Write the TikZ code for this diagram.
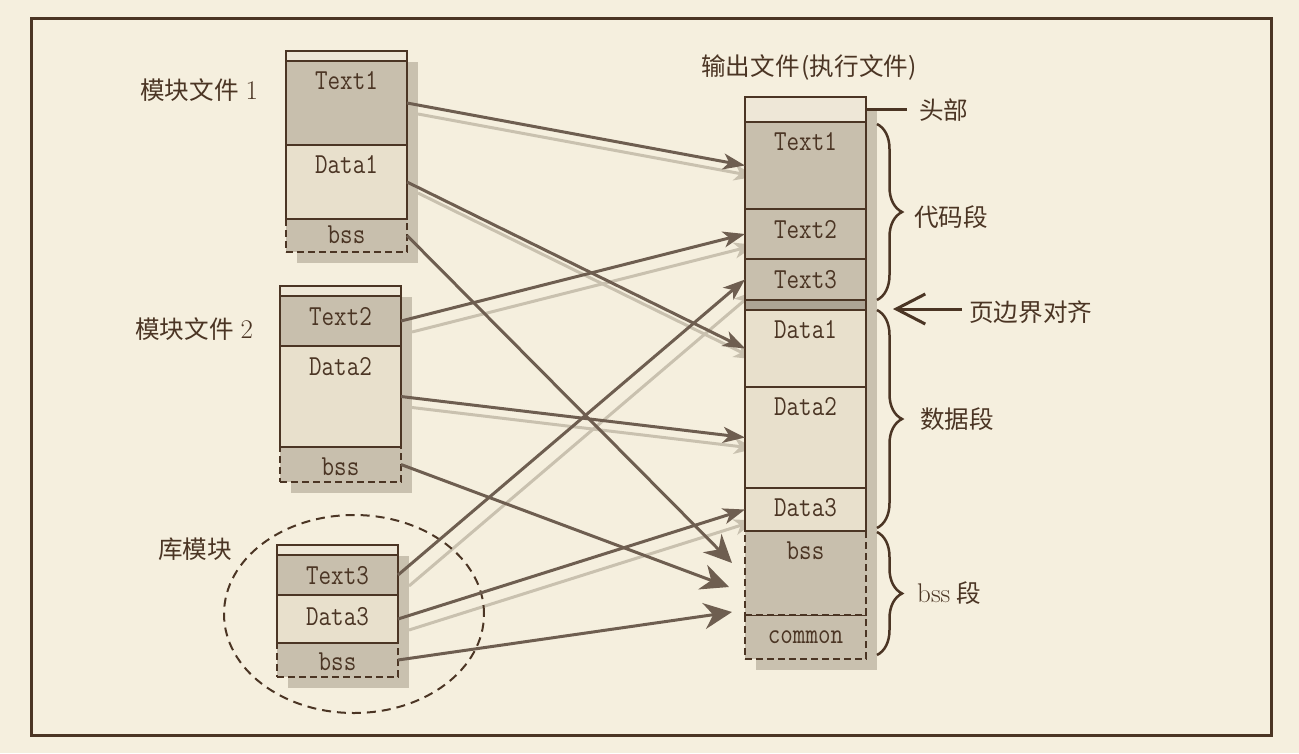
\documentclass[tikz,border=0pt]{standalone}
\usepackage{fontspec}
\newfontfamily\cjk{Noto Sans CJK SC}
\newfontfamily\mono[FakeStretch=0.84]{Latin Modern Mono}
\usetikzlibrary{arrows.meta,decorations.pathreplacing,shapes.geometric}
\definecolor{bgc}{HTML}{F5EFDE}
\definecolor{bord}{HTML}{4B3524}
\definecolor{arr}{HTML}{6E5E50}
\definecolor{shd}{HTML}{C9C1AF}
\definecolor{txtc}{HTML}{C8BFAD}
\definecolor{datc}{HTML}{E8E0CC}
\definecolor{hdrc}{HTML}{EEE7D7}
\definecolor{stripc}{HTML}{ADA494}
\definecolor{ink}{HTML}{4B3524}
\pgfdeclarelayer{back}\pgfdeclarelayer{shad}\pgfsetlayers{back,shad,main}
\newcommand{\rmpart}[1]{{\rmfamily\fontsize{27}{28}\selectfont #1}}
\begin{document}
\begin{tikzpicture}[x=1pt,y=-1pt,
 sec/.style={draw=bord, line width=2.5pt, minimum width=121pt, inner sep=0pt, outer sep=0pt, anchor=north west},
 hdr/.style={sec, fill=hdrc},
 txs/.style={sec, fill=txtc},
 das/.style={sec, fill=datc},
 bsss/.style={sec, fill=txtc, dash pattern=on 7pt off 4pt},
 seclab/.style={anchor=base, font=\mono\fontsize{29}{30}\selectfont, text=ink, inner sep=0pt},
 cn/.style={font=\cjk\fontsize{24.6}{28}\selectfont, text=ink, inner sep=0pt, anchor=west},
 conn/.style={draw=arr, line width=3pt, -{Stealth[length=22pt,width=16pt,inset=6pt]}},
 connbig/.style={draw=arr, line width=3pt, -{Stealth[length=28pt,width=26pt,inset=9pt]}},
 connshd/.style={draw=shd, line width=3pt, -{Stealth[length=22pt,width=16pt,inset=6pt]}},
 brc/.style={draw=bord, line width=2.5pt, decorate, decoration={brace, amplitude=25pt}},
]
\useasboundingbox (0,0) rectangle (1299,753);
\begin{pgfonlayer}{back}
\fill[bgc] (0,0) rectangle (1299,753);
\draw[bord, line width=3pt] (31,18) rectangle (1271,735);
\end{pgfonlayer}

% ---------- module 1 ----------
\node[bsss, minimum height=33pt] (m1b) at (286,219) {};
\node[hdr, minimum height=10pt] (m1h) at (286,51) {};
\node[txs, minimum height=84pt] (m1t) at (286,61) {};
\node[das, minimum height=74pt] (m1d) at (286,145) {};
\node[seclab] at ([yshift=-28pt]m1t.north) {Text1};
\node[seclab] at ([yshift=-28pt]m1d.north) {Data1};
\node[seclab] at ([yshift=-24pt]m1b.north) {bss};

% ---------- module 2 ----------
\node[bsss, minimum height=35pt] (m2b) at (280,447) {};
\node[hdr, minimum height=10pt] (m2h) at (280,286) {};
\node[txs, minimum height=50pt] (m2t) at (280,296) {};
\node[das, minimum height=101pt] (m2d) at (280,346) {};
\node[seclab] at ([yshift=-29pt]m2t.north) {Text2};
\node[seclab] at ([yshift=-29pt]m2d.north) {Data2};
\node[seclab] at ([yshift=-28pt]m2b.north) {bss};

% ---------- library module ----------
\node[bsss, minimum height=34pt] (lb) at (277,643) {};
\node[hdr, minimum height=10pt] (lh) at (277,545) {};
\node[txs, minimum height=40pt] (lt) at (277,555) {};
\node[das, minimum height=48pt] (ld) at (277,595) {};
\node[seclab] at ([yshift=-29pt]lt.north) {Text3};
\node[seclab] at ([yshift=-30pt]ld.north) {Data3};
\node[seclab] at ([yshift=-27pt]lb.north) {bss};
\node[draw=bord, line width=2pt, dash pattern=on 9pt off 6pt, ellipse, minimum width=260pt, minimum height=198pt] (lib) at (354,614) {};

% ---------- output file ----------
\node[bsss, minimum height=44pt] (oc) at (745,615) {};
\node[bsss, minimum height=84pt] (ob) at (745,531) {};
\node[hdr, minimum height=25pt] (oh) at (745,97) {};
\node[txs, minimum height=87pt] (ot1) at (745,122) {};
\node[txs, minimum height=50pt] (ot2) at (745,209) {};
\node[txs, minimum height=41pt] (ot3) at (745,259) {};
\node[sec, fill=stripc, minimum height=10pt] (ostrip) at (745,300) {};
\node[das, minimum height=77pt] (od1) at (745,310) {};
\node[das, minimum height=101pt] (od2) at (745,387) {};
\node[das, minimum height=43pt] (od3) at (745,488) {};
\node[seclab] at ([yshift=-28pt]ot1.north) {Text1};
\node[seclab] at ([yshift=-29pt]ot2.north) {Text2};
\node[seclab] at ([yshift=-29pt]ot3.north) {Text3};
\node[seclab] at ([yshift=-28pt]od1.north) {Data1};
\node[seclab] at ([yshift=-28pt]od2.north) {Data2};
\node[seclab] at ([yshift=-28pt]od3.north) {Data3};
\node[seclab] at ([yshift=-28pt]ob.north) {bss};
\node[seclab] at ([yshift=-28pt]oc.north) {common};

% ---------- box shadows ----------
\begin{pgfonlayer}{shad}
\fill[shd] ([shift={(11,11)}]m1h.north west) rectangle ([shift={(11,11)}]m1b.south east);
\fill[shd] ([shift={(11,11)}]m2h.north west) rectangle ([shift={(11,11)}]m2b.south east);
\fill[shd] ([shift={(11,11)}]lh.north west) rectangle ([shift={(11,11)}]lb.south east);
\fill[shd] ([shift={(11,11)}]oh.north west) rectangle ([shift={(11,11)}]oc.south east);
% connector shadows
\draw[connshd] ([shift={(11,11)}]m1t.east) -- ([shift={(11,11)}]ot1.west);
\draw[connshd] ([shift={(11,11)}]m1d.east) -- ([shift={(11,11)}]od1.west);
\draw[connshd] ([shift={(11,11)}]m2t.east) -- ([shift={(11,11)}]ot2.west);
\draw[connshd] ([shift={(11,11)}]m2d.east) -- ([shift={(11,11)}]od2.west);
\draw[connshd] ([shift={(11,11)}]lt.east) -- ([shift={(11,11)}]ot3.west);
\draw[connshd] ([shift={(11,11)}]ld.east) -- ([shift={(11,11)}]od3.west);
\end{pgfonlayer}

% ---------- labels ----------
\node[cn] (n1) at (140,90) {模块文件\hspace{7pt}\rmpart{1}};
\node[cn] (n2) at (135,329) {模块文件\hspace{7pt}\rmpart{2}};
\node[cn] (n3) at (158,549) {库模块};
\node[cn] (n4) at (701,67) {输出文件\hspace{2pt}(执行文件)};
\node[cn] (hd) at (919,110) {头部};
\node[cn] (cd) at (914,217) {代码段};
\node[cn] (dd) at (920,419) {数据段};
\node[cn] (bd) at (917,593) {\rmpart{bss}\hspace{6pt}段};
\node[cn] (pg) at (969,312) {页边界对齐};

% ---------- braces and pointers ----------
\coordinate (hdend) at (907,108);
\draw[bord, line width=2.5pt] (oh.east) -- (oh.east -| hdend);
\draw[brc] ([shift={(11,2)}]ot1.north east) -- ([shift={(11,0)}]ot3.south east);
\draw[brc] ([shift={(11,0)}]od1.north east) -- ([shift={(11,-3)}]od3.south east);
\draw[brc] ([shift={(11,1)}]ob.north east) -- ([shift={(11,-4)}]oc.south east);
\coordinate (pgtip) at (893,309);
\draw[bord, line width=3pt, -{Straight Barb[length=29pt,width=30pt]}] ([xshift=-7pt]pg.west |- pgtip) -- (pgtip);

% ---------- connectors ----------
\coordinate (e1) at (732,563);
\coordinate (e2) at (729,587);
\coordinate (e3) at (732,612);
\draw[conn] (m1t.east) -- (ot1.west);
\draw[conn] (m1d.east) -- (od1.west);
\draw[conn] (m2t.east) -- (ot2.west);
\draw[conn] (m2d.east) -- (od2.west);
\draw[conn] (lt.east) -- (ot3.west);
\draw[conn] (ld.east) -- (od3.west);
\draw[connbig] (m1b.east) -- (e1);
\draw[connbig] (m2b.east) -- (e2);
\draw[connbig] (lb.east) -- (e3);
\end{tikzpicture}
\end{document}
